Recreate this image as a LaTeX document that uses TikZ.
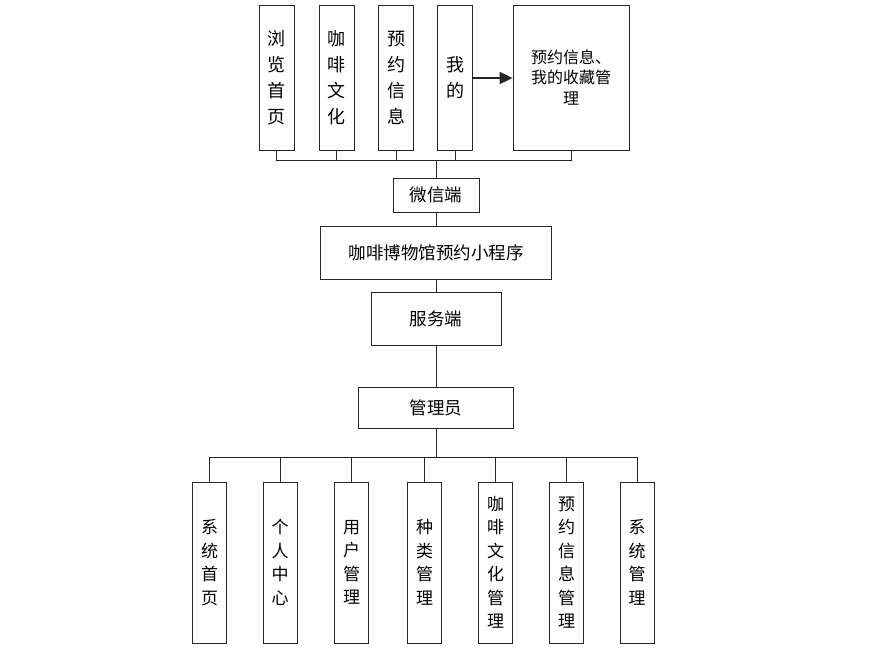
\documentclass[tikz,border=0pt]{standalone}
\usepackage{fontspec}
\setmainfont{Noto Sans CJK SC}
\usetikzlibrary{arrows.meta}

\begin{document}
\begin{tikzpicture}[x=1pt, y=-1pt,
    box/.style={draw=black!85, line width=0.8pt, inner sep=0pt, align=center},
    topbox/.style={box, minimum width=35pt, minimum height=145pt, font=\fontsize{18}{26}\selectfont},
    midbox/.style={box, font=\fontsize{17.5}{20}\selectfont},
    lowbox/.style={box, minimum width=34pt, minimum height=161pt, font=\fontsize{17}{23.5}\selectfont},
    link/.style={draw=black!85, line width=0.8pt}]
          \useasboundingbox (0,0) rectangle (880,653);

          % wechat side
          \node[topbox] (browse) at (276.5,77.5) {浏\\览\\首\\页};
          \node[topbox] (culture) at (336.5,77.5) {咖\\啡\\文\\化};
          \node[topbox] (booking) at (396,77.5) {预\\约\\信\\息};
          \node[topbox] (mine) at (455,77.5) {我\\的};
          \node[box, minimum width=116pt, minimum height=145pt, font=\fontsize{16}{20.5}\selectfont] (mineinfo) at (571,77.5) {预约信息、\\我的收藏管\\理};

          \draw[link, line width=1.8pt, -{Triangle[length=13pt, width=12pt]}] (mine.east |- 0,78) -- (mineinfo.west |- 0,78);

          \node[midbox, minimum width=86pt, minimum height=34pt] (wechat) at (436,195) {微信端};
          \node[midbox, minimum width=231pt, minimum height=53pt] (app) at (436,252.5) {咖啡博物馆预约小程序};
          \node[midbox, minimum width=130pt, minimum height=53pt] (server) at (436,318.5) {服务端};
          \node[midbox, minimum width=155pt, minimum height=41pt] (admin) at (436,407.5) {管理员};

          \coordinate (topbus) at (436,160);
          \draw[link] (browse.south) |- (topbus);
          \draw[link] (culture.south) |- (topbus);
          \draw[link] (booking.south) |- (topbus);
          \draw[link] (mine.south) |- (topbus);
          \draw[link] (mineinfo.south) |- (topbus);
          \draw[link] (topbus) -- (wechat.north);

          \draw[link] (wechat.south) -- (app.north);
          \draw[link] (app.south) -- (server.north);
          \draw[link] (server.south) -- (admin.north);

          % admin side
          \node[lowbox] (home) at (209.5,562.5) {系\\统\\首\\页};
          \node[lowbox] (center) at (280,562.5) {个\\人\\中\\心};
          \node[lowbox] (users) at (351.5,562.5) {用\\户\\管\\理};
          \node[lowbox] (kinds) at (424.5,562.5) {种\\类\\管\\理};
          \node[lowbox] (culturemgr) at (495.5,562.5) {咖\\啡\\文\\化\\管\\理};
          \node[lowbox] (bookingmgr) at (566.5,562.5) {预\\约\\信\\息\\管\\理};
          \node[lowbox] (system) at (637,562.5) {系\\统\\管\\理};

          \coordinate (lowbus) at (436,457);
          \draw[link] (admin.south) -- (lowbus);
          \draw[link] (home.north) |- (lowbus);
          \draw[link] (center.north) |- (lowbus);
          \draw[link] (users.north) |- (lowbus);
          \draw[link] (kinds.north) |- (lowbus);
          \draw[link] (culturemgr.north) |- (lowbus);
          \draw[link] (bookingmgr.north) |- (lowbus);
          \draw[link] (system.north) |- (lowbus);
        \end{tikzpicture}
\end{document}
